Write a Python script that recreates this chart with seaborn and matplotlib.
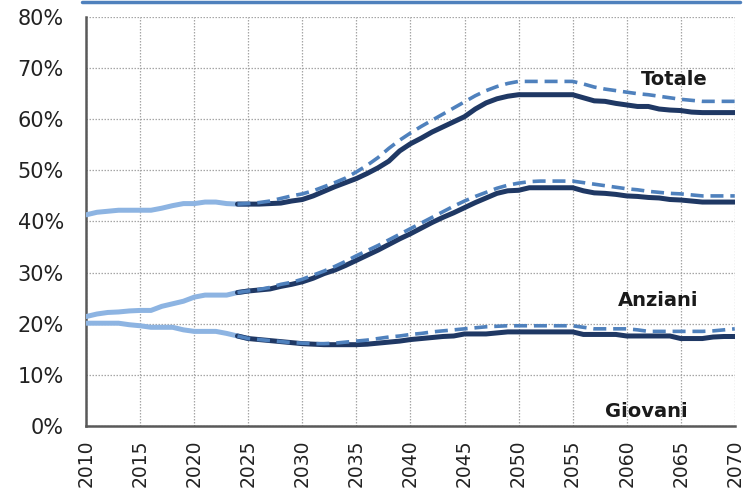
import numpy as np
import pandas as pd
import matplotlib.pyplot as plt
import seaborn as sns
from matplotlib.lines import Line2D
from matplotlib.ticker import FuncFormatter, MultipleLocator

#stile seaborn
sns.set_style('white')
plt.rcParams['font.family'] = ['DejaVu Sans']

#dati storici (2010-2025)
anni_storici = list(range(2010, 2026))
totale_storico = [41.3, 41.8, 42.0, 42.2, 42.2, 42.2, 42.2, 42.6, 43.1, 43.5, 43.5, 43.8, 43.8, 43.5, 43.4, 43.4]
anziani_storico = [21.4, 21.9, 22.2, 22.3, 22.5, 22.6, 22.6, 23.4, 23.9, 24.4, 25.2, 25.6, 25.6, 25.6, 26.1, 26.4]
giovani_storico = [20.1, 20.1, 20.1, 20.1, 19.8, 19.6, 19.3, 19.3, 19.3, 18.8, 18.5, 18.5, 18.5, 18.1, 17.6, 17.1]

#previsioni (2024-2070): scenario linea piena e scenario tratteggiato
anni_prev = list(range(2024, 2071))
totale_base = [43.4, 43.4, 43.4, 43.5, 43.6, 44.0, 44.3,
               45.0, 45.9, 46.8, 47.6, 48.4,
               49.4, 50.5, 51.8, 53.8, 55.2,
               56.3, 57.5, 58.5, 59.5, 60.5,
               62.0, 63.2, 64.0, 64.5, 64.8,
               64.8, 64.8, 64.8, 64.8, 64.8,
               64.2, 63.6, 63.5, 63.1, 62.8,
               62.5, 62.5, 62.0, 61.8, 61.7,
               61.4, 61.3, 61.3, 61.3, 61.3]
totale_alt = [43.4, 43.5, 43.7, 44.0, 44.5, 45.0, 45.4,
              46.0, 46.8, 47.6, 48.5, 49.7,
              51.0, 52.5, 54.3, 55.9, 57.3,
              58.6, 59.8, 61.0, 62.2, 63.4,
              64.6, 65.6, 66.4, 67.0, 67.4,
              67.4, 67.4, 67.4, 67.4, 67.4,
              66.9, 66.3, 65.9, 65.6, 65.3,
              65.0, 64.8, 64.5, 64.2, 63.9,
              63.7, 63.5, 63.5, 63.5, 63.5]
anziani_base = [26.1, 26.4, 26.6, 26.8, 27.3, 27.7, 28.2,
                28.9, 29.8, 30.5, 31.4, 32.4,
                33.4, 34.4, 35.5, 36.6, 37.6,
                38.7, 39.8, 40.8, 41.7, 42.7,
                43.7, 44.6, 45.5, 46.0, 46.1,
                46.6, 46.6, 46.6, 46.6, 46.6,
                46.0, 45.6, 45.5, 45.3, 45.0,
                44.9, 44.7, 44.6, 44.3, 44.2,
                44.0, 43.8, 43.8, 43.8, 43.8]
anziani_alt = [26.1, 26.4, 26.7, 27.1, 27.7, 28.1, 28.7,
               29.5, 30.3, 31.2, 32.2, 33.3,
               34.3, 35.3, 36.4, 37.5, 38.6,
               39.7, 40.8, 41.9, 43.0, 44.0,
               44.9, 45.7, 46.5, 47.1, 47.5,
               47.8, 47.9, 47.9, 47.9, 47.9,
               47.6, 47.3, 47.0, 46.7, 46.4,
               46.2, 45.9, 45.7, 45.5, 45.4,
               45.2, 45.0, 45.0, 45.0, 45.0]
giovani_base = [17.6, 17.1, 16.9, 16.7, 16.5, 16.3, 16.1,
                16.0, 15.9, 15.9, 15.9, 15.9,
                16.0, 16.2, 16.4, 16.6, 16.9,
                17.1, 17.3, 17.5, 17.6, 18.0,
                18.0, 18.0, 18.2, 18.4, 18.4,
                18.4, 18.4, 18.4, 18.4, 18.4,
                17.9, 17.9, 17.9, 17.9, 17.6,
                17.6, 17.6, 17.6, 17.6, 17.1,
                17.1, 17.1, 17.4, 17.5, 17.5]
giovani_alt = [17.6, 17.1, 16.9, 16.7, 16.5, 16.3, 16.2,
               16.1, 16.1, 16.2, 16.4, 16.6,
               16.8, 17.1, 17.4, 17.6, 17.9,
               18.1, 18.4, 18.6, 18.8, 19.0,
               19.2, 19.4, 19.5, 19.6, 19.6,
               19.6, 19.6, 19.6, 19.6, 19.6,
               19.3, 19.0, 19.0, 19.0, 19.0,
               18.8, 18.5, 18.5, 18.5, 18.5,
               18.5, 18.5, 18.6, 18.8, 19.0]

etichette = ['Totale', 'Anziani', 'Giovani']

#colori
c_storico = '#8DB4E2'
c_base = '#1F3864'
c_alt = '#4F81BD'

df_storico = pd.DataFrame({'anno': anni_storici, 'Totale': totale_storico,
                           'Anziani': anziani_storico, 'Giovani': giovani_storico})
df_base = pd.DataFrame({'anno': anni_prev, 'Totale': totale_base,
                        'Anziani': anziani_base, 'Giovani': giovani_base})
df_alt = pd.DataFrame({'anno': anni_prev, 'Totale': totale_alt,
                       'Anziani': anziani_alt, 'Giovani': giovani_alt})

fig = plt.figure(figsize=(7.49, 4.93), dpi=100)
ax = fig.add_axes([0.115, 0.136, 0.866, 0.8295])

for col in etichette:
	sns.lineplot(data=df_storico, x='anno', y=col, ax=ax, color=c_storico, linewidth=3.6, zorder=3)
	sns.lineplot(data=df_base, x='anno', y=col, ax=ax, color=c_base, linewidth=3.6, zorder=4)
	sns.lineplot(data=df_alt, x='anno', y=col, ax=ax, color=c_alt, linewidth=2.6,
	             dashes=False, zorder=5).lines[-1].set_dashes((3.6, 1.9))

#etichette delle serie
ax.text(2064.4, 67.8, 'Totale', fontsize=14, fontweight='bold', ha='center', va='center', color='#1a1a1a')
ax.text(2062.9, 24.5, 'Anziani', fontsize=14, fontweight='bold', ha='center', va='center', color='#1a1a1a')
ax.text(2061.8, 2.9, 'Giovani', fontsize=14, fontweight='bold', ha='center', va='center', color='#1a1a1a')

#assi
ax.set_xlim(2010, 2070)
ax.set_ylim(0, 80)
ax.xaxis.set_major_locator(MultipleLocator(5))
ax.yaxis.set_major_locator(MultipleLocator(10))
ax.yaxis.set_major_formatter(FuncFormatter(lambda v, p: '{:.0f}%'.format(v)))
ax.set_xlabel('')
ax.set_ylabel('')
plt.setp(ax.get_xticklabels(), rotation=90)
ax.tick_params(axis='y', labelsize=15, colors='#595959', labelcolor='#222222', length=7, width=1.5, pad=9)
ax.tick_params(axis='x', labelsize=13.5, colors='#595959', labelcolor='#222222', length=6, width=1.5, pad=4)

ax.grid(True, linestyle=(0, (1.2, 1.2)), color='#a6a6a6', linewidth=0.9)
ax.set_axisbelow(True)
for s in ['top', 'right']:
	ax.spines[s].set_visible(False)
for s in ['left', 'bottom']:
	ax.spines[s].set_color('#595959')
	ax.spines[s].set_linewidth(1.8)

#linea blu in alto
fig.add_artist(Line2D([0.109, 0.988], [0.996, 0.996], color=c_alt, linewidth=2.5, transform=fig.transFigure))

fig.savefig('out.png', dpi=100)
